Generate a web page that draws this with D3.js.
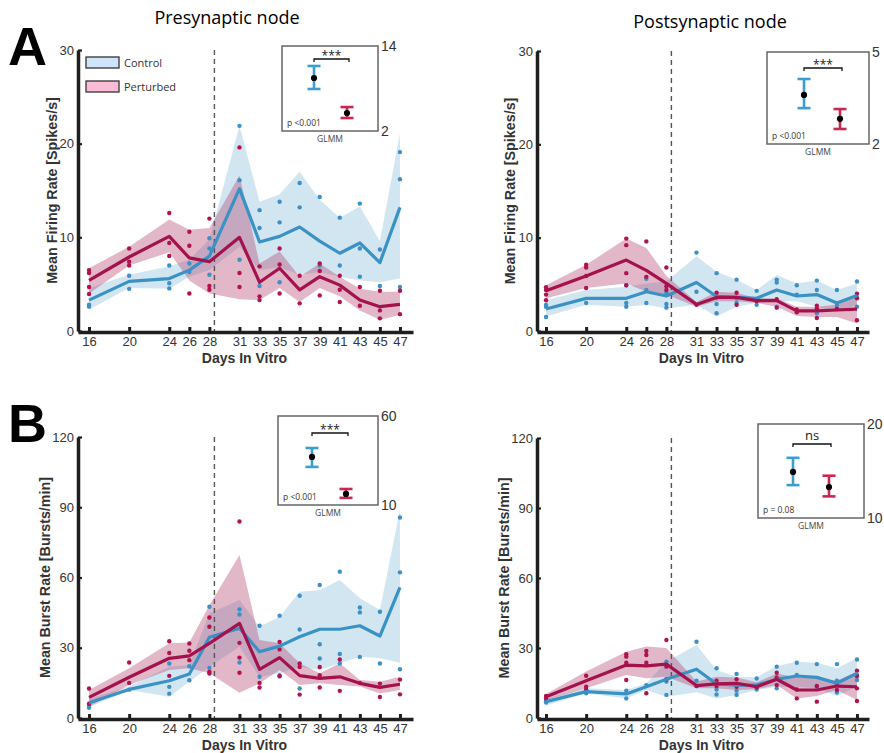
<!DOCTYPE html>
<html>
<head>
<meta charset="utf-8">
<script src="https://cdn.jsdelivr.net/npm/d3@7"></script>
<style>
  body { margin: 0; background: #fff; }
  svg { display: block; font-family: "Liberation Sans", Arial, sans-serif; }
</style>
</head>
<body>
<svg id="fig" width="884" height="753"></svg>
<script>
// ---- Recording days ----
const days = [16, 20, 24, 26, 28, 31, 33, 35, 37, 39, 41, 43, 45, 47];
const perturbDay = 28.5;
const groups = ["Control", "Perturbed"];

// ---- Presynaptic node: mean firing rate (spikes/s) ----
const preFR_ctrl_mean = [3.3, 5.3, 5.6, 6.5, 8.0, 15.2, 9.5, 10.1, 11.1, 9.6, 8.3, 9.4, 7.3, 13.2];
const preFR_ctrl_lo   = [2.3, 4.6, 4.5, 5.8, 6.5, 9.0, 6.5, 6.8, 6.0, 6.3, 5.8, 5.4, 5.2, 5.6];
const preFR_ctrl_hi   = [4.6, 6.0, 6.9, 7.6, 9.8, 21.9, 13.8, 14.6, 17.0, 14.0, 12.1, 13.3, 9.6, 21.1];
const preFR_pert_mean = [5.4, 7.9, 10.1, 7.8, 7.4, 10.0, 5.2, 6.7, 4.4, 5.8, 4.9, 3.3, 2.6, 2.85];
const preFR_pert_lo   = [4.0, 7.0, 8.4, 5.4, 4.0, 3.4, 3.3, 4.6, 3.1, 4.6, 3.7, 2.2, 1.2, 1.7];
const preFR_pert_hi   = [6.7, 9.0, 11.9, 10.8, 11.0, 16.6, 7.2, 8.5, 5.8, 7.2, 5.8, 4.5, 4.2, 4.2];
const preFR_ctrl_pts = [[2.6, 2.8], [4.5, 5.9], [4.55, 5.1, 7.0], [6.3, 7.2], [6.0, 8.8, 9.9], [7.6, 16.1, 21.9],
  [4.8, 11.0, 12.9], [5.2, 11.6, 13.8], [13.2, 15.8], [7.0, 14.3], [7.0, 12.1], [5.8, 8.8, 13.6], [4.8, 8.7], [4.7, 16.2, 19.1]];
const preFR_pert_pts = [[3.95, 4.7, 6.2, 6.5], [7.0, 7.4, 8.8], [8.0, 9.4, 12.6], [4.0, 9.1, 10.6], [4.4, 4.8, 12.0], [4.7, 6.2, 19.6],
  [3.3, 3.7, 6.9], [4.0, 7.1, 8.8], [2.95, 5.9], [3.8, 6.4, 7.2], [3.1, 4.4, 5.9], [2.7, 4.7], [1.35, 2.2, 4.3], [1.8, 4.3]];

// ---- Postsynaptic node: mean firing rate (spikes/s) ----
const postFR_ctrl_mean = [2.35, 3.5, 3.5, 4.2, 3.75, 5.2, 3.7, 3.6, 3.5, 4.4, 3.75, 3.9, 3.0, 3.8];
const postFR_ctrl_lo   = [1.55, 2.8, 2.6, 2.8, 2.4, 2.8, 1.55, 2.6, 3.0, 3.2, 3.2, 2.6, 2.1, 2.8];
const postFR_ctrl_hi   = [3.3, 4.4, 4.75, 5.1, 5.3, 8.0, 6.35, 5.5, 4.4, 6.0, 5.1, 5.4, 4.4, 5.1];
const postFR_pert_mean = [4.3, 5.9, 7.6, 6.5, 5.1, 2.85, 3.6, 3.6, 3.25, 3.25, 2.15, 2.15, 2.25, 2.35];
const postFR_pert_lo   = [3.5, 4.6, 5.1, 4.2, 3.9, 2.6, 3.2, 3.2, 3.0, 2.6, 1.6, 1.5, 1.5, 0.8];
const postFR_pert_hi   = [4.9, 7.1, 9.9, 8.9, 5.9, 3.1, 4.2, 4.1, 3.5, 3.5, 2.6, 2.6, 2.8, 3.9];
const postFR_ctrl_pts = [[1.5, 2.6, 2.8], [3.0], [2.6, 3.0, 4.9], [3.0, 4.4, 5.6], [2.5, 2.9, 4.1], [4.2, 8.4],
  [1.9, 2.9, 6.2], [3.0, 3.5, 5.5], [2.8, 4.3], [2.6, 5.2, 5.5], [3.9, 4.9], [1.9, 4.4, 5.4], [2.8, 4.4], [2.6, 3.6, 5.3]];
const postFR_pert_pts = [[3.3, 3.9, 4.4, 4.7], [4.6, 5.9, 6.8, 7.1], [4.9, 6.2, 9.2, 9.9], [5.8, 9.6], [4.4, 4.8, 6.8], [2.8],
  [3.6, 4.1], [2.8, 4.1], [3.2], [2.5, 3.4], [2.0, 2.3], [1.4, 2.4, 2.7], [2.4], [1.15, 3.5, 4.0]];

// ---- Presynaptic node: mean burst rate (bursts/min) ----
const preBR_ctrl_mean = [6.5, 12.2, 15.9, 18.8, 34.5, 38.3, 28.3, 30.7, 34.7, 37.9, 37.9, 39.4, 35.0, 55.8];
const preBR_ctrl_lo   = [4.6, 12.0, 9.1, 15.5, 21.9, 30.4, 17.6, 19.1, 21.9, 20.5, 23.4, 26.2, 25.5, 23.6];
const preBR_ctrl_hi   = [8.2, 13.4, 21.9, 22.6, 44.7, 50.4, 39.0, 43.2, 53.9, 54.6, 58.9, 51.1, 46.1, 89.0];
const preBR_pert_mean = [8.8, 17.4, 25.5, 26.5, 31.9, 40.4, 20.8, 25.8, 18.1, 16.9, 17.6, 14.8, 13.1, 14.4];
const preBR_pert_lo   = [4.8, 14.1, 20.5, 21.2, 19.1, 10.8, 14.8, 20.5, 14.1, 14.8, 14.1, 13.5, 10.5, 12.0];
const preBR_pert_hi   = [12.0, 21.2, 31.9, 32.2, 48.2, 69.6, 33.3, 31.9, 23.4, 19.1, 23.4, 16.2, 15.5, 17.6];
const preBR_ctrl_pts = [[4.4, 5.4], [12.1], [10.4, 13.3, 23.3], [16.1, 22.1], [21.4, 47.5], [23.7, 44.2, 46.4],
  [17.6, 39.4], [18.3, 43.7], [12.6, 37.8, 52.2], [25.4, 31.5, 56.8], [23.3, 27.3, 62.5], [26.1, 45.1, 47.2], [23.3, 45.4], [20.8, 62.2, 85.6]];
const preBR_pert_pts = [[6.1, 12.6], [15.0, 23.7], [18.0, 27.8, 32.8], [24.7, 28.7, 31.8], [19.0, 19.7, 39.0, 42.9], [19.3, 25.8, 32.1, 83.9],
  [13.0, 15.0], [17.8, 29.3, 32.5], [10.0, 21.8, 23.3], [13.0, 18.3, 21.8], [11.6, 25.0], [15.0], [9.0, 14.7], [10.1, 16.4]];

// ---- Postsynaptic node: mean burst rate (bursts/min) ----
const postBR_ctrl_mean = [7.0, 11.3, 10.3, 13.4, 16.6, 20.9, 14.6, 14.1, 14.1, 16.6, 18.0, 17.4, 14.9, 19.1];
const postBR_ctrl_lo   = [5.4, 10.6, 8.4, 12.0, 9.1, 11.0, 8.4, 9.9, 12.0, 13.4, 13.4, 12.7, 9.4, 13.4];
const postBR_ctrl_hi   = [8.4, 12.7, 12.0, 14.9, 24.1, 31.3, 20.6, 17.7, 17.4, 22.3, 24.1, 23.7, 21.3, 25.6];
const postBR_pert_mean = [9.1, 16.0, 22.7, 22.3, 23.1, 13.9, 14.6, 14.9, 13.4, 16.6, 12.0, 12.0, 13.7, 13.4];
const postBR_pert_lo   = [7.7, 12.7, 18.4, 17.0, 17.7, 12.7, 12.7, 12.0, 12.3, 14.1, 8.4, 9.4, 12.0, 7.7];
const postBR_pert_hi   = [10.3, 19.9, 28.4, 30.6, 30.0, 15.6, 17.7, 17.4, 15.3, 19.1, 17.4, 17.4, 16.0, 19.9];
const postBR_ctrl_pts = [[6.6, 7.3], [10.6, 11.3], [8.4, 11.7], [14.1], [9.9, 15.6, 24.1], [16.0, 32.7],
  [10.1, 12.2, 21.3], [9.9, 11.7, 18.9], [12.2, 16.9], [12.7, 22.0], [18.4, 23.7], [13.4, 23.1], [10.9, 16.0, 23.1], [16.3, 18.4, 25.1]];
const postBR_pert_pts = [[8.4, 9.4], [12.2, 13.4, 18.1], [16.3, 23.7, 26.3, 27.3], [10.6, 23.7, 27.0, 28.7], [16.6, 22.0, 33.4], [13.7],
  [13.7, 16.0], [13.4, 16.6], [13.1], [14.1, 17.4, 19.4], [8.4, 12.2], [7.0, 13.7], [12.0, 14.1], [7.3, 12.7, 18.0, 20.3]];

// ---- Axis ticks ----
const frTicks = [0, 10, 20, 30];
const brTicks = [0, 30, 60, 90, 120];

// ---- GLMM group estimates (Control, Perturbed) ----
const preFR_glmm_mean = [9.48, 4.54], preFR_glmm_lo = [7.93, 3.83], preFR_glmm_hi = [11.18, 5.38], preFR_glmm_range = [2, 14];
const postFR_glmm_mean = [3.60, 2.82], postFR_glmm_lo = [3.17, 2.49], postFR_glmm_hi = [4.12, 3.14], postFR_glmm_range = [2, 5];
const preBR_glmm_mean = [37.0, 16.2], preBR_glmm_lo = [31.4, 14.0], preBR_glmm_hi = [42.0, 19.0], preBR_glmm_range = [10, 60];
const postBR_glmm_mean = [14.9, 13.3], postBR_glmm_lo = [13.5, 12.3], postBR_glmm_hi = [16.4, 14.5], postBR_glmm_range = [10, 20];

// ---- Styling ----
const C = {
  ctrlLine: "#3a91c3", pertLine: "#a4124d",
  ctrlBand: "#9ecae1", pertBand: "#b4416f",
  ctrlDot: "#3d8fc6", pertDot: "#b0124f",
  ctrlBar: "#3a9fd0", pertBar: "#c8274f",
  axis: "#1e1e1e", text: "#333"
};
const FONT = '"Liberation Sans", Arial, sans-serif';
const FONT2 = '"Open Sans", "Noto Sans", sans-serif';

const svg = d3.select("#fig");

const panels = [
  {
    ctrl: [preFR_ctrl_mean, preFR_ctrl_lo, preFR_ctrl_hi, preFR_ctrl_pts],
    pert: [preFR_pert_mean, preFR_pert_lo, preFR_pert_hi, preFR_pert_pts],
    yMax: 30, yTicks: frTicks, yLabel: "Mean Firing Rate [Spikes/s]",
    xDomain: [14.9, 48.3], left: 78, right: 413, top: 50, bottom: 331, yLabelX: 52,
    inset: { mean: preFR_glmm_mean, lo: preFR_glmm_lo, hi: preFR_glmm_hi, range: preFR_glmm_range,
      x0: 282, x1: 378, y0: 46, y1: 131, cx: [314, 347], by: 59, sig: "***", p: "p <0.001" }
  },
  {
    ctrl: [postFR_ctrl_mean, postFR_ctrl_lo, postFR_ctrl_hi, postFR_ctrl_pts],
    pert: [postFR_pert_mean, postFR_pert_lo, postFR_pert_hi, postFR_pert_pts],
    yMax: 30, yTicks: frTicks, yLabel: "Mean Firing Rate [Spikes/s]",
    xDomain: [15.1, 48.2], left: 537, right: 869, top: 51, bottom: 331, yLabelX: 510,
    inset: { mean: postFR_glmm_mean, lo: postFR_glmm_lo, hi: postFR_glmm_hi, range: postFR_glmm_range,
      x0: 767, x1: 869, y0: 52, y1: 144, cx: [804, 840], by: 68, sig: "***", p: "p <0.001" }
  },
  {
    ctrl: [preBR_ctrl_mean, preBR_ctrl_lo, preBR_ctrl_hi, preBR_ctrl_pts],
    pert: [preBR_pert_mean, preBR_pert_lo, preBR_pert_hi, preBR_pert_pts],
    yMax: 120, yTicks: brTicks, yLabel: "Mean Burst Rate [Bursts/min]",
    xDomain: [14.9, 48.3], left: 78, right: 413, top: 437, bottom: 718, yLabelX: 45,
    inset: { mean: preBR_glmm_mean, lo: preBR_glmm_lo, hi: preBR_glmm_hi, range: preBR_glmm_range,
      x0: 278, x1: 378, y0: 416, y1: 505, cx: [312, 346], by: 433, sig: "***", p: "p <0.001" }
  },
  {
    ctrl: [postBR_ctrl_mean, postBR_ctrl_lo, postBR_ctrl_hi, postBR_ctrl_pts],
    pert: [postBR_pert_mean, postBR_pert_lo, postBR_pert_hi, postBR_pert_pts],
    yMax: 120, yTicks: brTicks, yLabel: "Mean Burst Rate [Bursts/min]",
    xDomain: [15.1, 48.2], left: 537, right: 869, top: 438, bottom: 718, yLabelX: 504,
    inset: { mean: postBR_glmm_mean, lo: postBR_glmm_lo, hi: postBR_glmm_hi, range: postBR_glmm_range,
      x0: 758, x1: 864, y0: 424, y1: 518, cx: [793, 829], by: 444, sig: "ns", p: "p = 0.08" }
  }
];

function drawPanel(p) {
  const g = svg.append("g");
  const x = d3.scaleLinear().domain(p.xDomain).range([p.left, p.right]);
  const y = d3.scaleLinear().domain([0, p.yMax]).range([p.bottom, p.top]);

  const series = [
    { data: p.ctrl, line: C.ctrlLine, band: C.ctrlBand, bandOp: 0.47, dot: C.ctrlDot },
    { data: p.pert, line: C.pertLine, band: C.pertBand, bandOp: 0.38, dot: C.pertDot }
  ];

  // shaded variability bands
  const area = d3.area()
    .x((d, i) => x(days[i]))
    .y0(d => y(d[0]))
    .y1(d => y(d[1]));
  series.forEach(s => {
    g.append("path")
      .datum(d3.zip(s.data[1], s.data[2]))
      .attr("d", area)
      .attr("fill", s.band)
      .attr("fill-opacity", s.bandOp);
  });

  // perturbation onset
  g.append("line")
    .attr("x1", x(perturbDay)).attr("x2", x(perturbDay))
    .attr("y1", y(p.yMax)).attr("y2", y(0))
    .attr("stroke", "#555").attr("stroke-width", 1.4)
    .attr("stroke-dasharray", "5,4");

  // individual cultures
  series.forEach(s => {
    const flat = s.data[3].flatMap((vals, i) => vals.map(v => ({ day: days[i], v })));
    g.append("g").selectAll("circle").data(flat).join("circle")
      .attr("cx", d => x(d.day)).attr("cy", d => y(d.v))
      .attr("r", 2.2).attr("fill", s.dot);
  });

  // group means
  const line = d3.line().x((d, i) => x(days[i])).y(d => y(d));
  series.forEach(s => {
    g.append("path").datum(s.data[0])
      .attr("d", line).attr("fill", "none")
      .attr("stroke", s.line).attr("stroke-width", 3.2)
      .attr("stroke-linejoin", "round");
  });

  // axes
  const ya = g.append("g").attr("transform", `translate(${p.left},0)`)
    .call(d3.axisLeft(y).tickValues(p.yTicks).tickSize(-4).tickSizeOuter(0).tickPadding(4));
  ya.select(".domain").attr("stroke", C.axis).attr("stroke-width", 3.5);
  ya.selectAll(".tick line").attr("stroke", C.axis).attr("stroke-width", 2.2);
  ya.selectAll(".tick text").attr("font-size", 13).attr("fill", C.text).attr("font-family", FONT);

  const xa = g.append("g").attr("transform", `translate(0,${p.bottom + 1})`)
    .call(d3.axisBottom(x).tickValues(days).tickSize(-5).tickSizeOuter(0).tickPadding(5));
  xa.select(".domain").attr("stroke", C.axis).attr("stroke-width", 3.5);
  xa.selectAll(".tick line").attr("stroke", C.axis).attr("stroke-width", 3);
  xa.selectAll(".tick text").attr("font-size", 13).attr("fill", C.text).attr("font-family", FONT);

  g.append("text")
    .attr("x", (x(16) + x(47)) / 2).attr("y", p.bottom + 32)
    .attr("text-anchor", "middle").attr("font-family", FONT)
    .attr("font-weight", "bold").attr("font-size", 14).attr("fill", C.text)
    .text("Days In Vitro");

  g.append("text")
    .attr("transform", `translate(${p.yLabelX},${(p.top + p.bottom) / 2}) rotate(-90)`)
    .attr("text-anchor", "middle").attr("dy", "0.35em").attr("font-family", FONT)
    .attr("font-weight", "bold").attr("font-size", 14.3).attr("fill", C.text)
    .text(p.yLabel);

  drawInset(p.inset);
}

function drawInset(ins) {
  const g = svg.append("g");
  const yi = d3.scaleLinear().domain(ins.range).range([ins.y1, ins.y0]);
  const xi = d3.scaleOrdinal().domain(groups).range(ins.cx);
  const barColors = [C.ctrlBar, C.pertBar];

  g.append("rect")
    .attr("x", ins.x0).attr("y", ins.y0)
    .attr("width", ins.x1 - ins.x0).attr("height", ins.y1 - ins.y0)
    .attr("fill", "#fff").attr("stroke", "#666").attr("stroke-width", 1.5);

  const ax = g.append("g").attr("transform", `translate(${ins.x1},0)`)
    .call(d3.axisRight(yi).tickValues(ins.range).tickFormat(d3.format("d"))
      .tickSize(0).tickPadding(3));
  ax.select(".domain").remove();
  ax.selectAll("text").attr("font-size", 14).attr("fill", C.text).attr("font-family", FONT);

  groups.forEach((grp, i) => {
    const cx = xi(grp);
    const top = yi(ins.hi[i]), bot = yi(ins.lo[i]);
    g.append("line").attr("x1", cx).attr("x2", cx).attr("y1", top).attr("y2", bot)
      .attr("stroke", barColors[i]).attr("stroke-width", 2.6);
    [top, bot].forEach(yy => g.append("line")
      .attr("x1", cx - 6.5).attr("x2", cx + 6.5).attr("y1", yy).attr("y2", yy)
      .attr("stroke", barColors[i]).attr("stroke-width", 2.6));
    g.append("circle").attr("cx", cx).attr("cy", yi(ins.mean[i])).attr("r", 3.1).attr("fill", "#000");
  });

  // significance bracket
  const bx0 = xi(groups[0]), bx1 = xi(groups[1]) + 2;
  g.append("path")
    .attr("d", `M${bx0},${ins.by + 3}V${ins.by}H${bx1}V${ins.by + 3}`)
    .attr("fill", "none").attr("stroke", "#111").attr("stroke-width", 1.3);
  g.append("text")
    .attr("x", (bx0 + bx1) / 2).attr("y", ins.sig === "ns" ? ins.by - 4 : ins.by + 0.5)
    .attr("text-anchor", "middle").attr("font-family", FONT2)
    .attr("font-size", ins.sig === "ns" ? 13 : 12).attr("fill", "#222")
    .text(ins.sig);

  g.append("text").attr("x", ins.x0 + 5).attr("y", ins.y1 - 5)
    .attr("font-family", FONT2).attr("font-size", 8.5).attr("fill", "#333").text(ins.p);
  g.append("text").attr("x", (ins.x0 + ins.x1) / 2).attr("y", ins.y1 + 11)
    .attr("text-anchor", "middle").attr("font-family", FONT2)
    .attr("font-size", 8.5).attr("fill", "#444").text("GLMM");
}

panels.forEach(drawPanel);

// column titles
svg.append("text").attr("x", 227).attr("y", 24).attr("text-anchor", "middle")
  .attr("font-family", FONT2).attr("font-size", 18).attr("fill", "#000").text("Presynaptic node");
svg.append("text").attr("x", 710).attr("y", 28).attr("text-anchor", "middle")
  .attr("font-family", FONT2).attr("font-size", 18).attr("fill", "#000").text("Postsynaptic node");

// panel letters
svg.append("text").attr("x", 8).attr("y", 65).attr("font-family", FONT)
  .attr("font-weight", "bold").attr("font-size", 54).attr("fill", "#000").text("A");
svg.append("text").attr("x", 8).attr("y", 442).attr("font-family", FONT)
  .attr("font-weight", "bold").attr("font-size", 54).attr("fill", "#000").text("B");

// legend
const legendFill = ["#cfe3fa", "#fbbcd6"];
const legend = svg.append("g");
groups.forEach((grp, i) => {
  const ly = 57 + i * 24;
  legend.append("rect").attr("x", 86).attr("y", ly).attr("width", 33).attr("height", 11)
    .attr("fill", legendFill[i]).attr("stroke", "#333").attr("stroke-width", 1.3);
  legend.append("text").attr("x", 124).attr("y", ly + 9.5)
    .attr("font-family", FONT2).attr("font-size", 11).attr("fill", "#333").text(grp);
});
</script>
</body>
</html>
